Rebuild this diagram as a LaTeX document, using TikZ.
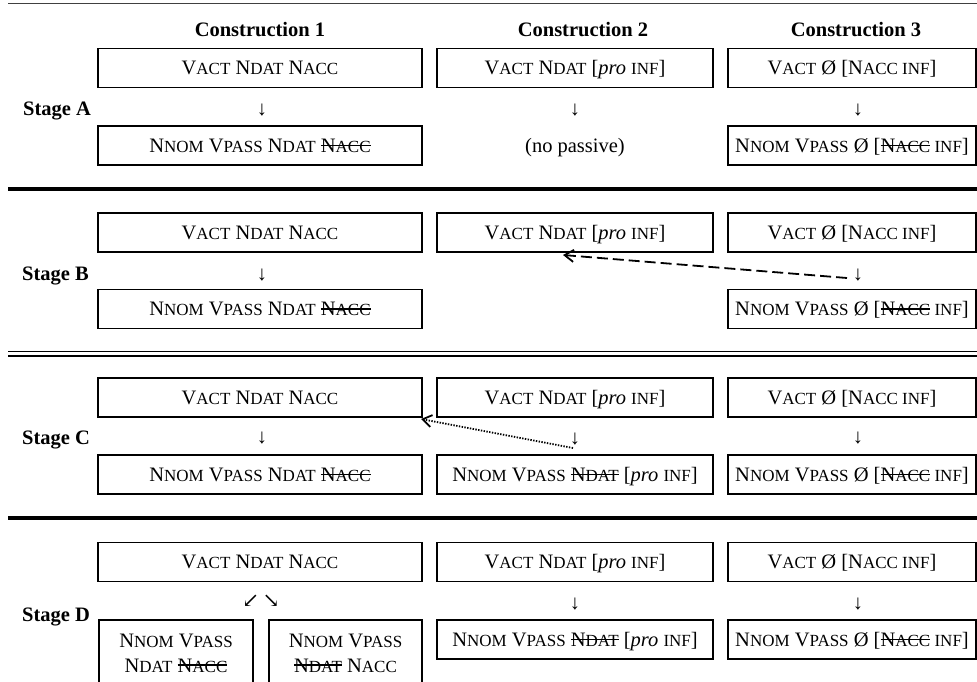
\documentclass[tikz,border=0pt]{standalone}
\usepackage{fontspec}
\setmainfont{Liberation Serif}
\newfontfamily\arrfont{DejaVu Serif}
\usetikzlibrary{arrows.meta}
\newcommand\sm[1]{{\fontsize{17}{18}\selectfont #1}}
\newcommand\strk[1]{\mbox{\setbox0\hbox{#1}\rlap{\rule[0.3em]{\wd0}{0.07em}}\box0}}
\tikzset{
  base font/.style={font=\fontsize{20.5}{24}\selectfont},
  bx/.style={draw, line width=1.9pt, inner sep=0pt, text height=13.5pt, text depth=0pt, minimum height=39pt},
  colA/.style={minimum width=324pt},
  colB/.style={minimum width=276pt},
  colC/.style={minimum width=248pt},
  hdr/.style={anchor=base, inner sep=0pt, font=\fontsize{20.5}{24}\selectfont\bfseries},
  stagelbl/.style={anchor=base west, inner sep=0pt, font=\fontsize{20.5}{24}\selectfont\bfseries},
  dn/.style={inner sep=0pt},
  plain/.style={inner sep=0pt, text height=13.5pt, text depth=0pt},
  rulethin/.style={line width=1pt, black!75},
  rulethick/.style={line width=3.8pt},
  ruledbl/.style={line width=1.7pt},
  tipb/.style={-{Straight Barb[length=9pt,width=12pt,line width=1.8pt]}}
}
\begin{document}
\begin{tikzpicture}[x=1pt,y=-1pt, every node/.style={base font}]
\useasboundingbox (0,0) rectangle (977,681);
% horizontal rules
\coordinate (r0l) at (8,3);   \coordinate (r0r) at (980,3);
\coordinate (r1l) at (8,189); \coordinate (r1r) at (980,189);
\coordinate (r2l) at (8,351.5); \coordinate (r2r) at (980,351.5);
\coordinate (r3l) at (8,356); \coordinate (r3r) at (980,356);
\coordinate (r4l) at (8,518); \coordinate (r4r) at (980,518);
\draw[rulethin] (r0l) -- (r0r);
\draw[rulethick] (r1l) -- (r1r);
\draw[ruledbl] (r2l) -- (r2r);
\draw[ruledbl] (r3l) -- (r3r);
\draw[rulethick] (r4l) -- (r4r);

% headers
\node[hdr] (h1) at (260,36.7) {Construction 1};
\node[hdr] (h2) at (583,36.7) {Construction 2};
\node[hdr] (h3) at (856,36.7) {Construction 3};

% ---------- Stage A
\node[stagelbl] (sA) at (23,115) {Stage A};
\node[bx,colA] (a1t) at (260,68) {V\sm{ACT} N\sm{DAT} N\sm{ACC}};
\node[dn] (a1d) at (262,110) {↓};
\node[bx,colA] (a1b) at (260,145.5) {N\sm{NOM} V\sm{PASS} N\sm{DAT} \strk{N\sm{ACC}}};
\node[bx,colB] (a2t) at (575,68) {V\sm{ACT} N\sm{DAT} [\textit{pro} \sm{INF}]};
\node[dn] (a2d) at (575,110) {↓};
\node[plain] (a2b) at (575,145.5) {(no passive)};
\node[bx,colC] (a3t) at (852,68) {V\sm{ACT} Ø [N\sm{ACC INF}]};
\node[dn] (a3d) at (858,110) {↓};
\node[bx,colC] (a3b) at (852,145.5) {N\sm{NOM} V\sm{PASS} Ø [\strk{N\sm{ACC}}\sm{ INF}]};

% ---------- Stage B
\node[stagelbl] (sB) at (22,280) {Stage B};
\node[bx,colA] (b1t) at (260,232.5) {V\sm{ACT} N\sm{DAT} N\sm{ACC}};
\node[dn] (b1d) at (262,275) {↓};
\node[bx,colA] (b1b) at (260,309) {N\sm{NOM} V\sm{PASS} N\sm{DAT} \strk{N\sm{ACC}}};
\node[bx,colB] (b2t) at (575,232.5) {V\sm{ACT} N\sm{DAT} [\textit{pro} \sm{INF}]};
\node[bx,colC] (b3t) at (852,232.5) {V\sm{ACT} Ø [N\sm{ACC INF}]};
\node[dn] (b3d) at (858,275) {↓};
\node[bx,colC] (b3b) at (852,309) {N\sm{NOM} V\sm{PASS} Ø [\strk{N\sm{ACC}}\sm{ INF}]};
\coordinate (dashS) at (847,278);
\coordinate (dashE) at (563,255);
\draw[line width=1.8pt, dash pattern=on 11pt off 5pt, tipb] (dashS) -- (dashE);

% ---------- Stage C
\node[stagelbl] (sC) at (22,444) {Stage C};
\node[bx,colA] (c1t) at (260,397.5) {V\sm{ACT} N\sm{DAT} N\sm{ACC}};
\node[dn] (c1d) at (262,438) {↓};
\node[bx,colA] (c1b) at (260,474.5) {N\sm{NOM} V\sm{PASS} N\sm{DAT} \strk{N\sm{ACC}}};
\node[bx,colB] (c2t) at (575,397.5) {V\sm{ACT} N\sm{DAT} [\textit{pro} \sm{INF}]};
\node[dn] (c2d) at (575,439) {↓};
\node[bx,colB] (c2b) at (575,474.5) {N\sm{NOM} V\sm{PASS} \strk{N\sm{DAT}} [\textit{pro} \sm{INF}]};
\node[bx,colC] (c3t) at (852,397.5) {V\sm{ACT} Ø [N\sm{ACC INF}]};
\node[dn] (c3d) at (858,438) {↓};
\node[bx,colC] (c3b) at (852,474.5) {N\sm{NOM} V\sm{PASS} Ø [\strk{N\sm{ACC}}\sm{ INF}]};
\coordinate (dotS) at (573,448);
\coordinate (dotE) at (421,419);
\draw[line width=1.8pt, dash pattern=on 1.4pt off 1.4pt, tipb] (dotS) -- (dotE);

% ---------- Stage D
\node[stagelbl] (sD) at (22,621) {Stage D};
\node[bx,colA] (d1t) at (260,562) {V\sm{ACT} N\sm{DAT} N\sm{ACC}};
\node[dn] (d1d) at (261,601) {\arrfont ↙\,↘};
\node[bx,minimum width=154pt,minimum height=72pt] (d1a) at (176,656) {};
\node[bx,minimum width=153pt,minimum height=72pt] (d1b) at (345.5,656) {};
\node[anchor=base,inner sep=0pt] (d1a1) at (176,647) {N\sm{NOM} V\sm{PASS}};
\node[anchor=base,inner sep=0pt] (d1a2) at (176,672) {N\sm{DAT} \strk{N\sm{ACC}}};
\node[anchor=base,inner sep=0pt] (d1b1) at (345.5,647) {N\sm{NOM} V\sm{PASS}};
\node[anchor=base,inner sep=0pt] (d1b2) at (345.5,672) {\strk{N\sm{DAT}} N\sm{ACC}};
\node[bx,colB] (d2t) at (575,562) {V\sm{ACT} N\sm{DAT} [\textit{pro} \sm{INF}]};
\node[dn] (d2d) at (575,604) {↓};
\node[bx,colB] (d2b) at (575,639.5) {N\sm{NOM} V\sm{PASS} \strk{N\sm{DAT}} [\textit{pro} \sm{INF}]};
\node[bx,colC] (d3t) at (852,562) {V\sm{ACT} Ø [N\sm{ACC INF}]};
\node[dn] (d3d) at (858,604) {↓};
\node[bx,colC] (d3b) at (852,639.5) {N\sm{NOM} V\sm{PASS} Ø [\strk{N\sm{ACC}}\sm{ INF}]};
\end{tikzpicture}
\end{document}
